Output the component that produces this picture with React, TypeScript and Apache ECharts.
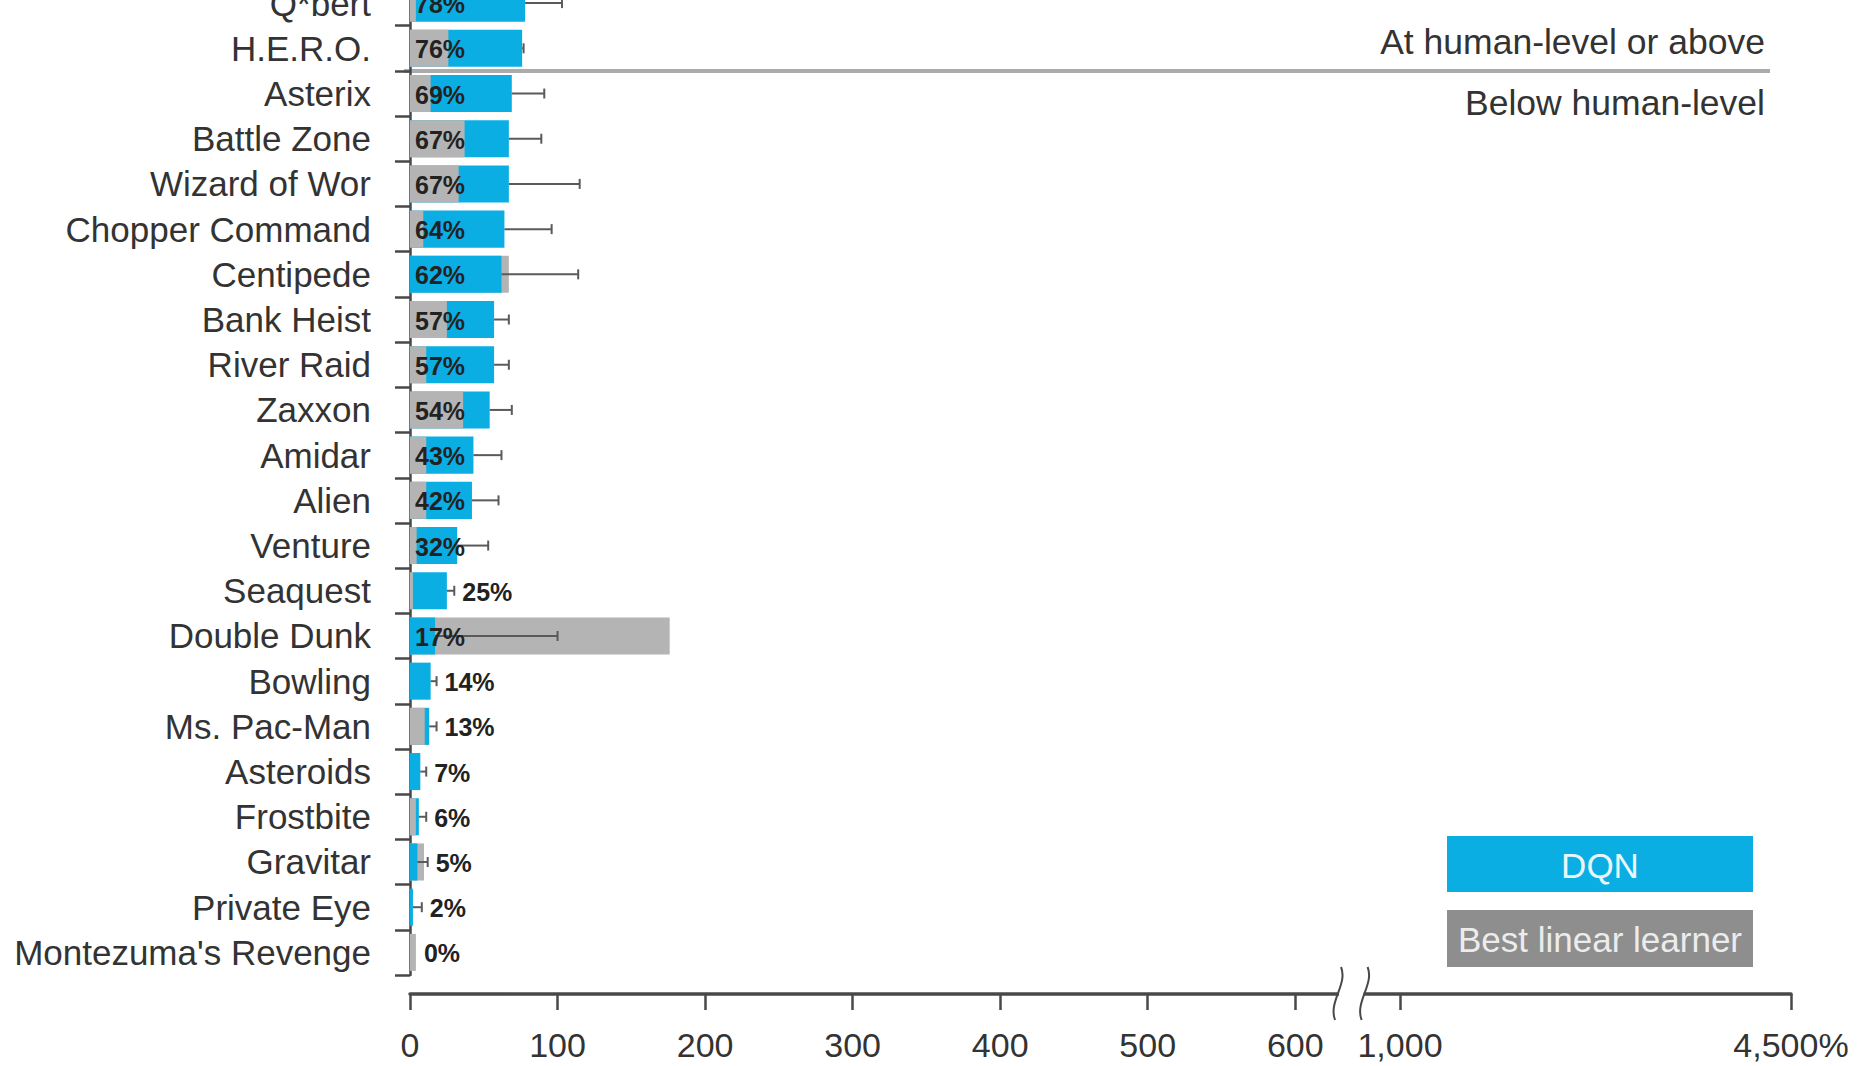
import React, { useEffect, useRef } from "react";
import * as echarts from "echarts";

// ---------- data ----------
const categories = [
  "Q*bert", "H.E.R.O.", "Asterix", "Battle Zone", "Wizard of Wor", "Chopper Command",
  "Centipede", "Bank Heist", "River Raid", "Zaxxon", "Amidar", "Alien", "Venture",
  "Seaquest", "Double Dunk", "Bowling", "Ms. Pac-Man", "Asteroids", "Frostbite",
  "Gravitar", "Private Eye", "Montezuma's Revenge",
];
// DQN performance, % of professional human tester
const dqnValues = [78, 76, 69, 67, 67, 64, 62, 57, 57, 54, 43, 42, 32, 25, 17, 14, 13, 7, 6, 5, 2, 0];
// Best linear learner
const linearValues = [4, 26, 14, 37, 33, 9, 67, 25, 11, 36, 11, 11, 4.5, 2, 176, 0, 10, 0, 4, 9.5, 0, 4];
// DQN upper error bar end (mean + s.d.)
const errorValues: (number | null)[] = [103, 77, 91, 89, 115, 96, 114, 67, 67, 69, 62, 60, 53, 30, 100, 18, 18, 11, 11, 12, 8, null];

const tickValues = [0, 100, 200, 300, 400, 500, 600, 1000, 4500];
const tickLabels = ["0", "100", "200", "300", "400", "500", "600", "1,000", "4,500%"];

// broken axis: linear up to the break, compressed segment from 1,000 to 4,500
const BREAK_LOW = 650;
const HIGH_START = 1000;
const HIGH_END = 4500;
const HIGH_START_U = 671;
const HIGH_END_U = 936;
const toAxis = (v: number) =>
  v <= BREAK_LOW ? v : HIGH_START_U + ((v - HIGH_START) * (HIGH_END_U - HIGH_START_U)) / (HIGH_END - HIGH_START);

const BLUE = "#0AAEE3";
const GRAY = "#B4B4B4";
const LEGEND_GRAY = "#8E8E8E";
const AXIS = "#484848";
const TEXT = "#333333";
const FONT = '"Liberation Sans", Arial, Helvetica, sans-serif';

// the chart canvas is shifted up so that the top row is cut off as in the reference
const SHIFT = 40;
const GRID_BOTTOM = 91;
const X_OFFSET = 19;

export default function App() {
  const ref = useRef<HTMLDivElement>(null);

  useEffect(() => {
    if (!ref.current) return;
    const chart = echarts.init(ref.current, null, { renderer: "svg" });

    const data = categories.map((_, i) => [
      i,
      toAxis(dqnValues[i]),
      toAxis(linearValues[i]),
      toAxis(errorValues[i] == null ? dqnValues[i] : (errorValues[i] as number)),
      dqnValues[i],
    ]);

    const renderItem = (params: any, api: any) => {
      const idx = api.value(0);
      const dqn = api.value(1);
      const lin = api.value(2);
      const err = api.value(3);
      const pct = api.value(4);
      const base = api.coord([0, idx]);
      const x0 = base[0];
      const yc = base[1];
      const band = api.size([0, 1])[1];
      const h = band * 0.82;
      const xd = api.coord([dqn, idx])[0];
      const xl = api.coord([lin, idx])[0];
      const xe = api.coord([err, idx])[0];
      const dqnRect = {
        type: "rect",
        shape: { x: x0, y: yc - h / 2, width: Math.max(0, xd - x0), height: h },
        style: { fill: BLUE },
      };
      const linRect = {
        type: "rect",
        shape: { x: x0, y: yc - h / 2, width: Math.max(0, xl - x0), height: h },
        style: { fill: GRAY },
      };
      const children: any[] = [];
      // larger bar behind, smaller bar in front
      if (lin >= dqn) {
        children.push(linRect, dqnRect);
      } else {
        children.push(dqnRect, linRect);
      }
      if (xe > xd + 0.5) {
        children.push({
          type: "line",
          shape: { x1: xd, y1: yc, x2: xe, y2: yc },
          style: { stroke: "#5a5a5a", lineWidth: 2 },
        });
        children.push({
          type: "line",
          shape: { x1: xe, y1: yc - 5, x2: xe, y2: yc + 5 },
          style: { stroke: "#5a5a5a", lineWidth: 2 },
        });
      }
      const maxVal = Math.max(dqn, lin);
      const inside = maxVal >= 30;
      const lx = inside ? x0 + 5 : Math.max(xd, xl, xe) + 8;
      children.push({
        type: "text",
        style: {
          text: pct + "%",
          x: lx,
          y: yc + 1,
          fill: "#222222",
          fontSize: 25,
          fontWeight: "bold",
          fontFamily: FONT,
          align: "left",
          verticalAlign: "middle",
        },
      });
      return { type: "group", children };
    };

    const option: any = {
      animation: false,
      backgroundColor: "#ffffff",
      grid: { left: 410, right: 69, top: SHIFT - 19.5, bottom: GRID_BOTTOM, containLabel: false },
      xAxis: {
        type: "value",
        min: 0,
        max: toAxis(HIGH_END),
        offset: X_OFFSET,
        splitLine: { show: false },
        axisLine: { show: true, lineStyle: { color: AXIS, width: 3.5 } },
        axisTick: {
          show: true,
          length: 16,
          lineStyle: { color: AXIS, width: 2.5 },
          customValues: tickValues.map(toAxis),
        },
        axisLabel: {
          show: true,
          margin: 34,
          fontSize: 34,
          fontFamily: FONT,
          color: TEXT,
          customValues: tickValues.map(toAxis),
          formatter: (val: number) => {
            let best = 0;
            let bd = Infinity;
            tickValues.forEach((t, i) => {
              const d = Math.abs(toAxis(t) - val);
              if (d < bd) {
                bd = d;
                best = i;
              }
            });
            return tickLabels[best];
          },
        },
      },
      yAxis: {
        type: "category",
        data: categories,
        inverse: true,
        offset: 8,
        axisLine: { show: true, lineStyle: { color: AXIS, width: 2.5 } },
        axisTick: { show: true, interval: 0, length: 15, lineStyle: { color: AXIS, width: 2.5 } },
        axisLabel: {
          interval: 0,
          hideOverlap: false,
          margin: 31,
          fontSize: 35,
          fontFamily: FONT,
          color: TEXT,
        },
        splitLine: { show: false },
      },
      series: [
        {
          type: "custom",
          name: "DQN vs Best linear learner",
          renderItem,
          encode: { y: 0, x: [1, 2, 3] },
          data,
          clip: false,
        },
      ],
    };
    chart.setOption(option);

    // decorations computed from the axes
    const yHero = chart.convertToPixel({ yAxisIndex: 0 }, 1) as number;
    const yAst = chart.convertToPixel({ yAxisIndex: 0 }, 2) as number;
    const yLine = (yHero + yAst) / 2;
    const xStart = chart.convertToPixel({ xAxisIndex: 0 }, 0) as number;
    const xEnd = chart.convertToPixel({ xAxisIndex: 0 }, toAxis(HIGH_END)) as number;
    const xb1 = chart.convertToPixel({ xAxisIndex: 0 }, 629) as number;
    const xb2 = chart.convertToPixel({ xAxisIndex: 0 }, 647) as number;
    const yAxisLine = 1066 + SHIFT - GRID_BOTTOM + X_OFFSET;

    const breakMark = (x: number) => ({
      type: "bezierCurve",
      shape: {
        x1: x + 3, y1: yAxisLine - 27,
        cpx1: x + 10, cpy1: yAxisLine - 10,
        cpx2: x - 10, cpy2: yAxisLine + 8,
        x2: x - 3, y2: yAxisLine + 26,
      },
      style: { stroke: AXIS, lineWidth: 2, fill: null },
      z: 101,
    });

    chart.setOption({
      graphic: [
        {
          type: "line",
          shape: { x1: xStart - 6, y1: yLine, x2: xEnd - 21, y2: yLine },
          style: { stroke: "#ABABAB", lineWidth: 4 },
          z: -1,
        },
        {
          type: "text",
          x: xEnd - 26,
          y: yLine - 29,
          style: {
            text: "At human-level or above",
            fill: TEXT,
            fontSize: 35.5,
            fontFamily: FONT,
            align: "right",
            verticalAlign: "middle",
          },
        },
        {
          type: "text",
          x: xEnd - 26,
          y: yLine + 32,
          style: {
            text: "Below human-level",
            fill: TEXT,
            fontSize: 35.5,
            fontFamily: FONT,
            align: "right",
            verticalAlign: "middle",
          },
        },
        // axis break
        {
          type: "rect",
          shape: { x: xb1 + 1, y: yAxisLine - 6, width: xb2 - xb1 - 2, height: 12 },
          style: { fill: "#ffffff" },
          z: 100,
        },
        breakMark(xb1),
        breakMark(xb2),
        // legend
        {
          type: "group",
          left: 1447,
          top: 836 + SHIFT,
          children: [
            { type: "rect", shape: { x: 0, y: 0, width: 306, height: 56 }, style: { fill: BLUE } },
            {
              type: "text",
              x: 153,
              y: 29,
              style: {
                text: "DQN",
                fill: "#eaf6fb",
                fontSize: 35,
                fontFamily: FONT,
                align: "center",
                verticalAlign: "middle",
              },
            },
            { type: "rect", shape: { x: 0, y: 74, width: 306, height: 57 }, style: { fill: LEGEND_GRAY } },
            {
              type: "text",
              x: 153,
              y: 103,
              style: {
                text: "Best linear learner",
                fill: "#ececec",
                fontSize: 35,
                fontFamily: FONT,
                align: "center",
                verticalAlign: "middle",
              },
            },
          ],
        },
      ],
    });

    return () => chart.dispose();
  }, []);

  return (
    <div
      ref={ref}
      style={{
        position: "fixed",
        left: 0,
        top: -SHIFT,
        width: 1860,
        height: 1066 + SHIFT,
        background: "#fff",
      }}
    />
  );
}
